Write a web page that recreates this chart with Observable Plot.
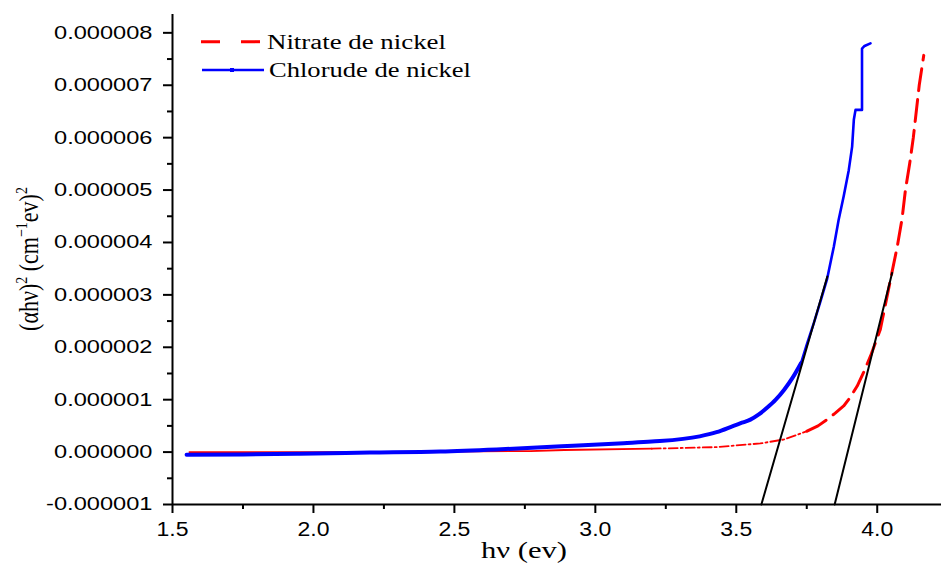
<!DOCTYPE html>
<html>
<head>
<meta charset="utf-8">
<script src="https://cdn.jsdelivr.net/npm/d3@7"></script>
<script src="https://cdn.jsdelivr.net/npm/@observablehq/plot@0.6"></script>
<style>
  html, body { margin: 0; padding: 0; background: #fff; }
  #chart svg { display: block; }
</style>
</head>
<body>
<div id="chart"></div>
<script>
// Tauc plot: (αhν)² versus photon energy for two nickel precursors.
// Energies in eV; (αhν)² values in units of 1e-6 (cm⁻¹·eV)².

const xMajorTicks = [1.5, 2.0, 2.5, 3.0, 3.5, 4.0];
const xMinorTicks = [1.75, 2.25, 2.75, 3.25, 3.75];
const yMajorTicks = [-1, 0, 1, 2, 3, 4, 5, 6, 7, 8];
const yMinorTicks = [-0.5, 0.5, 1.5, 2.5, 3.5, 4.5, 5.5, 6.5, 7.5];

const seriesNames = ["Nitrate de nickel", "Chlorude de nickel"];

// Nitrate de nickel
const nitrateE = [1.56, 2.0, 2.5, 2.77, 2.89, 3.2, 3.43, 3.585, 3.668, 3.70, 3.751, 3.79, 3.822, 3.85, 3.881,
                  3.905, 3.929, 3.95, 3.976, 4.011, 4.047, 4.071, 4.088, 4.10, 4.115, 4.128, 4.149, 4.165];
const nitrateA = [0.0, 0.0, 0.01, 0.02, 0.04, 0.065, 0.095, 0.165, 0.24, 0.30, 0.40, 0.50, 0.62, 0.74, 0.88,
                  1.05, 1.26, 1.5, 1.83, 2.34, 3.29, 3.92, 4.45, 5.0, 5.5, 6.0, 7.0, 7.57];

// Chlorude de nickel
const chlorideE = [1.55, 1.75, 1.95, 2.2, 2.45, 2.65, 2.88, 3.1, 3.2, 3.37, 3.43, 3.49, 3.52, 3.55, 3.58, 3.61,
                   3.64, 3.67, 3.70, 3.73, 3.75, 3.775, 3.80, 3.822, 3.846, 3.863, 3.881, 3.899, 3.911, 3.917,
                   3.923, 3.946, 3.946, 3.955, 3.976];
const chlorideA = [-0.05, -0.045, -0.03, -0.01, 0.01, 0.05, 0.11, 0.17, 0.2, 0.3, 0.38, 0.5, 0.56, 0.62, 0.72, 0.85,
                   1.0, 1.19, 1.42, 1.70, 2.05, 2.46, 2.9, 3.3, 3.92, 4.43, 4.88, 5.38, 5.83, 6.34,
                   6.53, 6.53, 7.70, 7.75, 7.80];

// Linear fits of the absorption edges (end points)
const fitChlorideE = [3.589, 3.823];
const fitChlorideA = [-1.0, 3.35];
const fitNitrateE = [3.849, 4.053];
const fitNitrateA = [-1.0, 3.42];

const SCALE = 1e-6;
const toRows = (xs, ys) => xs.map((e, i) => ({e, a: ys[i] * SCALE}));

const nitrate = toRows(nitrateE, nitrateA);
const chloride = toRows(chlorideE, chlorideA);
const fitChloride = toRows(fitChlorideE, fitChlorideA);
const fitNitrate = toRows(fitNitrateE, fitNitrateA);

// The red trace is drawn in three styles along its length
const nitrateFlat = nitrate.filter(d => d.e <= 3.2);
const nitrateKnee = nitrate.filter(d => d.e >= 3.2 && d.e <= 3.751);
const nitrateEdge = nitrate.filter(d => d.e >= 3.751);
const chlorideFlat = chloride.filter(d => d.e <= 3.73);
const chlorideEdge = chloride.filter(d => d.e >= 3.73);

const RED = "#ff0000", BLUE = "#0000ff";
const fmtY = v => d3.format(".6f")(v).replace("\u2212", "-");

const chart = Plot.plot({
  width: 941,
  height: 574,
  marginLeft: 172,
  marginRight: 0,
  marginTop: 14,
  marginBottom: 70,
  x: {domain: [1.5, 4.228]},
  y: {domain: [-1e-6, 8.35e-6]},
  style: {fontFamily: "'Liberation Sans', Arial, sans-serif", fontSize: "18.6px", color: "#000", background: "#fff"},
  marks: [
    Plot.axisX(xMajorTicks, {tickSize: 9, tickPadding: 8, strokeWidth: 2, tickFormat: d => d.toFixed(1), label: null, fontSize: 20}),
    Plot.axisX(xMinorTicks, {tickSize: 5, strokeWidth: 2, tickFormat: () => "", label: null}),
    Plot.axisY(yMajorTicks.map(v => v * SCALE), {tickSize: 9, tickPadding: 11, strokeWidth: 2, tickFormat: fmtY, label: null}),
    Plot.axisY(yMinorTicks.map(v => v * SCALE), {tickSize: 5, strokeWidth: 2, tickFormat: () => "", label: null}),
    Plot.ruleX([1.5], {stroke: "#000", strokeWidth: 2}),
    Plot.ruleY([-1e-6], {stroke: "#000", strokeWidth: 2}),

    Plot.line(nitrateFlat, {x: "e", y: "a", stroke: RED, strokeWidth: 1.8}),
    Plot.line(nitrateKnee, {x: "e", y: "a", stroke: RED, strokeWidth: 1.8, strokeDasharray: "9,3,2,3"}),
    Plot.line(nitrateEdge, {x: "e", y: "a", stroke: RED, strokeWidth: 3, strokeDasharray: "22,9"}),

    Plot.line(chlorideFlat, {x: "e", y: "a", stroke: BLUE, strokeWidth: 4, curve: "monotone-x"}),
    Plot.line(chlorideEdge, {x: "e", y: "a", stroke: BLUE, strokeWidth: 2.6}),

    Plot.line(fitChloride, {x: "e", y: "a", stroke: "#000", strokeWidth: 2}),
    Plot.line(fitNitrate, {x: "e", y: "a", stroke: "#000", strokeWidth: 2})
  ]
});

document.getElementById("chart").appendChild(chart);

const svg = d3.select(chart);

// Widen tick labels horizontally
function widen(selector, factor) {
  svg.selectAll(selector).each(function () {
    const len = this.getComputedTextLength();
    if (len > 0) {
      this.setAttribute("textLength", (len * factor).toFixed(1));
      this.setAttribute("lengthAdjust", "spacingAndGlyphs");
    }
  });
}
widen('g[aria-label="y-axis tick label"] text', 1.27);
widen('g[aria-label="x-axis tick label"] text', 1.15);

const serif = "'Liberation Serif', 'Times New Roman', serif";

// Axis titles
svg.append("text")
  .attr("x", 524).attr("y", 558)
  .attr("text-anchor", "middle")
  .attr("font-family", serif).attr("font-size", 24)
  .attr("textLength", 86).attr("lengthAdjust", "spacingAndGlyphs")
  .attr("fill", "#000")
  .text("h\u03bd (ev)");

const yTitle = svg.append("text")
  .attr("transform", "translate(38,259) scale(1.25,1) rotate(-90)")
  .attr("text-anchor", "middle")
  .attr("font-family", serif).attr("font-size", 22)
  .attr("fill", "#000");
yTitle.append("tspan").text("(\u03b1h\u03bd)");
yTitle.append("tspan").attr("dy", -9).attr("font-size", 14).text("2");
yTitle.append("tspan").attr("dy", 9).text(" (cm");
yTitle.append("tspan").attr("dy", -9).attr("font-size", 14).text("\u22121");
yTitle.append("tspan").attr("dy", 9).text("ev)");
yTitle.append("tspan").attr("dy", -9).attr("font-size", 14).text("2");

// Legend
const legend = svg.append("g")
  .attr("font-family", serif).attr("font-size", 20).attr("fill", "#000")
  .attr("text-anchor", "start");
legend.append("line")
  .attr("x1", 201).attr("x2", 262).attr("y1", 41.7).attr("y2", 41.7)
  .attr("stroke", RED).attr("stroke-width", 3).attr("stroke-dasharray", "19,21");
legend.append("text").attr("x", 267).attr("y", 48.5)
  .attr("textLength", 179).attr("lengthAdjust", "spacingAndGlyphs")
  .text(seriesNames[0]);
legend.append("line")
  .attr("x1", 202).attr("x2", 264).attr("y1", 70).attr("y2", 70)
  .attr("stroke", BLUE).attr("stroke-width", 2.4);
legend.append("rect")
  .attr("x", 230).attr("y", 68).attr("width", 4).attr("height", 4)
  .attr("fill", BLUE);
legend.append("text").attr("x", 269).attr("y", 77)
  .attr("textLength", 202).attr("lengthAdjust", "spacingAndGlyphs")
  .text(seriesNames[1]);
</script>
</body>
</html>
